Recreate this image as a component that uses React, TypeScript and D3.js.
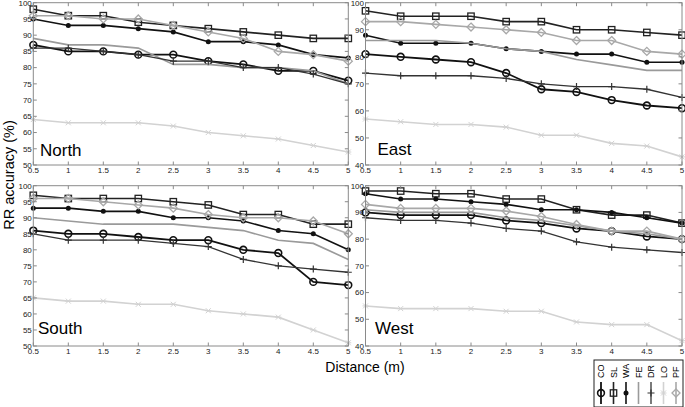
import React from "react";
import * as d3 from "d3";

// ---------- data ----------
const distances = [0.5, 1, 1.5, 2, 2.5, 3, 3.5, 4, 4.5, 5];
const xTickLabels = ["0.5", "1", "1.5", "2", "2.5", "3", "3.5", "4", "4.5", "5"];
const seriesNames = ["CO", "SL", "WA", "FE", "DR", "LO", "PF"];

// rows follow seriesNames order
const northValues = [
  [87, 85, 85, 84, 84, 82, 81, 79, 79, 76],
  [98, 96, 96, 94, 93, 92, 91, 90, 89, 89],
  [95, 93, 93, 92, 91, 88, 88, 87, 84, 83],
  [89, 87, 87, 86, 81, 81, 80, 80, 79, 75],
  [86, 86, 85, 84, 82, 82, 80, 80, 78, 75],
  [64, 63, 63, 63, 62, 60, 59, 58, 56, 54],
  [96, 96, 95, 95, 93, 91, 89, 85, 84, 82],
];
const eastValues = [
  [81, 80, 79, 78, 74, 68, 67, 64, 62, 61],
  [97, 95, 95, 95, 93, 93, 90, 90, 89, 88],
  [88, 85, 85, 85, 83, 82, 81, 81, 78, 78],
  [86, 86, 86, 85, 83, 82, 79, 77, 75, 75],
  [74, 73, 73, 73, 72, 70, 69, 69, 68, 65],
  [57, 56, 55, 55, 54, 51, 51, 48, 47, 43],
  [93, 93, 92, 91, 90, 89, 86, 86, 82, 81],
];
const southValues = [
  [86, 85, 85, 84, 83, 83, 80, 79, 70, 69],
  [97, 96, 96, 96, 95, 94, 91, 91, 88, 88],
  [93, 93, 92, 92, 90, 90, 89, 86, 85, 80],
  [90, 89, 88, 88, 88, 87, 86, 83, 82, 77],
  [85, 83, 83, 83, 82, 81, 77, 75, 74, 73],
  [65, 64, 64, 63, 63, 61, 60, 59, 55, 51],
  [96, 96, 95, 94, 93, 91, 90, 90, 89, 85],
];
const westValues = [
  [90, 89, 89, 89, 87, 86, 84, 83, 81, 80],
  [98, 98, 97, 97, 95, 95, 91, 89, 89, 86],
  [97, 95, 95, 94, 93, 91, 91, 90, 88, 86],
  [91, 90, 90, 90, 88, 87, 85, 83, 82, 80],
  [88, 87, 87, 86, 84, 83, 79, 77, 76, 75],
  [55, 54, 54, 54, 53, 53, 49, 48, 48, 42],
  [93, 91.5, 91.5, 91.5, 90.5, 88.5, 85.5, 83, 83, 80],
];
const yTicksFine = [50, 55, 60, 65, 70, 75, 80, 85, 90, 95, 100];
const yTicksCoarse = [40, 50, 60, 70, 80, 90, 100];

// ---------- styles ----------
const seriesStyle: Record<string, { color: string; width: number; marker: string }> = {
  CO: { color: "#111", width: 1.8, marker: "circle" },
  SL: { color: "#222", width: 1.6, marker: "square" },
  WA: { color: "#111", width: 1.6, marker: "dot" },
  FE: { color: "#9a9a9a", width: 1.6, marker: "none" },
  DR: { color: "#333", width: 1.3, marker: "plus" },
  LO: { color: "#d2d2d2", width: 1.6, marker: "star" },
  PF: { color: "#a8a8a8", width: 1.6, marker: "diamond" },
};

const FONT = "Liberation Sans, Arial, sans-serif";

function Marker({ type, color, x, y }: { type: string; color: string; x: number; y: number }) {
  const t = `translate(${x},${y})`;
  switch (type) {
    case "circle":
      return <circle transform={t} r={3.4} fill="none" stroke={color} strokeWidth={1.6} />;
    case "square":
      return <rect transform={t} x={-3.2} y={-3.2} width={6.4} height={6.4} fill="none" stroke={color} strokeWidth={1.3} />;
    case "dot":
      return <circle transform={t} r={2.5} fill={color} />;
    case "plus":
      return <path transform={t} d="M-3.5,0H3.5M0,-3.5V3.5" stroke={color} strokeWidth={1.2} />;
    case "star":
      return <path transform={t} d="M-2.5,-2.5L2.5,2.5M-2.5,2.5L2.5,-2.5M-3,0H3" stroke={color} strokeWidth={1} />;
    case "diamond":
      return <path transform={t} d="M0,-4L4,0L0,4L-4,0Z" fill="none" stroke={color} strokeWidth={1.3} />;
    default:
      return null;
  }
}

function Panel({ left, right, top, bottom, yMin, yTicks, values, label, labelX, labelY }: any) {
  const x = d3.scaleLinear().domain([0.5, 5]).range([left, right]);
  const y = d3.scaleLinear().domain([yMin, 100]).range([bottom, top]);
  const line = d3.line<number>().x((_, i) => x(distances[i])).y((d) => y(d));
  const tick = 3.5;
  const axisColor = "#8a8a8a";
  return (
    <g>
      {values.map((row: number[], si: number) => {
        const st = seriesStyle[seriesNames[si]];
        return (
          <g key={si}>
            <path d={line(row) || ""} fill="none" stroke={st.color} strokeWidth={st.width} />
            {row.map((v, i) => (
              <Marker key={i} type={st.marker} color={st.color} x={x(distances[i])} y={y(v)} />
            ))}
          </g>
        );
      })}
      <rect x={left} y={top} width={right - left} height={bottom - top} fill="none" stroke={axisColor} strokeWidth={1} />
      {distances.map((d, i) => (
        <g key={"xt" + i}>
          <line x1={x(d)} x2={x(d)} y1={bottom} y2={bottom - tick} stroke={axisColor} />
          <line x1={x(d)} x2={x(d)} y1={top} y2={top + tick} stroke={axisColor} />
          <text x={x(d)} y={bottom + 7.5} fontSize={8} fontFamily={FONT} textAnchor="middle" fill="#222">
            {xTickLabels[i]}
          </text>
        </g>
      ))}
      {yTicks.map((t: number) => (
        <g key={"yt" + t}>
          <line x1={left} x2={left + tick} y1={y(t)} y2={y(t)} stroke={axisColor} />
          <line x1={right} x2={right - tick} y1={y(t)} y2={y(t)} stroke={axisColor} />
          <text x={left - 1.5} y={y(t) + 2.8} fontSize={8} fontFamily={FONT} textAnchor="end" fill="#222">
            {t}
          </text>
        </g>
      ))}
      <text x={labelX} y={labelY} fontSize={17} fontFamily={FONT} fill="#000">
        {label}
      </text>
    </g>
  );
}

function Legend() {
  const lx = 594, ly = 360, lw = 89, lh = 47;
  const xs = d3.scalePoint<string>().domain(seriesNames).range([lx + 7, lx + lw - 7]);
  return (
    <g>
      <rect x={lx} y={ly} width={lw} height={lh} fill="#fff" stroke="#222" strokeWidth={1} />
      {seriesNames.map((n) => {
        const st = seriesStyle[n];
        const cx = xs(n) as number;
        return (
          <g key={n}>
            <text transform={`translate(${cx + 3.3},${ly + 18}) rotate(-90)`} fontSize={9} fontFamily={FONT} fill="#000">
              {n}
            </text>
            <line x1={cx} x2={cx} y1={ly + 22} y2={ly + 44} stroke={st.color} strokeWidth={st.width} />
            <Marker type={st.marker} color={st.color} x={cx} y={ly + 33} />
          </g>
        );
      })}
    </g>
  );
}

export default function App() {
  return (
    <svg width={685} height={407} style={{ position: "absolute", left: 0, top: 0, background: "#fff" }}>
      <rect width={685} height={407} fill="#fff" />
      <Panel left={33.3} right={348.3} top={2.7} bottom={165} yMin={50} yTicks={yTicksFine} values={northValues} label="North" labelX={40} labelY={156} />
      <Panel left={365.5} right={682} top={2.7} bottom={165} yMin={40} yTicks={yTicksCoarse} values={eastValues} label="East" labelX={377.5} labelY={155} />
      <Panel left={33.3} right={348.3} top={185.7} bottom={346} yMin={50} yTicks={yTicksFine} values={southValues} label="South" labelX={38} labelY={334.3} />
      <Panel left={365.5} right={682} top={185.7} bottom={346} yMin={40} yTicks={yTicksCoarse} values={westValues} label="West" labelX={375} labelY={334.3} />
      <text transform="translate(13.5,175) rotate(-90)" fontSize={14.5} fontFamily={FONT} textAnchor="middle" fill="#000">
        RR accuracy (%)
      </text>
      <text x={365} y={372} fontSize={14} fontFamily={FONT} textAnchor="middle" fill="#000">
        Distance (m)
      </text>
      <Legend />
    </svg>
  );
}
